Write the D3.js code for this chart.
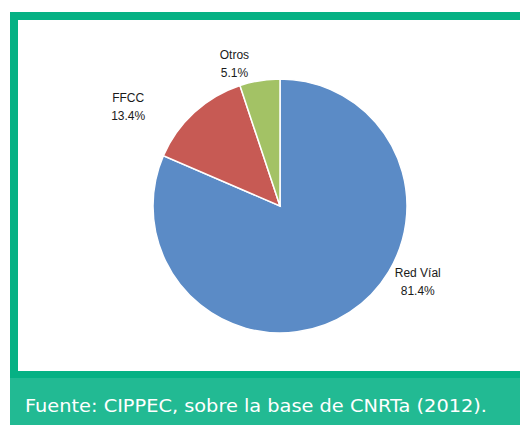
<!DOCTYPE html>
<html>
<head>
<meta charset="utf-8">
<script src="https://cdn.jsdelivr.net/npm/d3@7"></script>
<style>
  body { margin: 0; background: #fff; }
  svg { display: block; }
</style>
</head>
<body>
<script>
// Share of freight transport by mode (percent)
var categories = ["Red Víal", "FFCC", "Otros"];
var shares = [81.4, 13.4, 5.1];
var shareLabels = ["81.4%", "13.4%", "5.1%"];
var sliceColors = ["#5b8bc6", "#c75a54", "#a3c265"];
var caption = "Fuente: CIPPEC, sobre la base de CNRTa (2012).";

// where each label sits, relative to its slice middle (degrees / px)
var labelShift = [-28, -14, -8.5],
    labelRadius = [157, 182, 150];

var width = 520, height = 425;
var cx = 280, cy = 206, radius = 127;

var svg = d3.select("body").append("svg")
    .attr("width", width)
    .attr("height", height);

// green frame
svg.append("rect")
    .attr("x", 10).attr("y", 12)
    .attr("width", width - 10).attr("height", 366)
    .attr("fill", "#06b184");
svg.append("rect")
    .attr("x", 18).attr("y", 20)
    .attr("width", width - 18).attr("height", 351)
    .attr("fill", "#fff");

// caption band
svg.append("rect")
    .attr("x", 10).attr("y", 378)
    .attr("width", width - 10).attr("height", height - 378)
    .attr("fill", "#22ba93");
svg.append("text")
    .attr("x", 25).attr("y", 412)
    .attr("fill", "#fff")
    .attr("textLength", 462)
    .attr("lengthAdjust", "spacingAndGlyphs")
    .style("font-family", "'DejaVu Sans', sans-serif")
    .style("font-size", "17px")
    .text(caption);

var pie = d3.pie().sort(null).value(function(d) { return d; });
var arc = d3.arc().innerRadius(0).outerRadius(radius);
var arcs = pie(shares);

var g = svg.append("g")
    .attr("transform", "translate(" + cx + "," + cy + ")");

g.selectAll("path.slice")
    .data(arcs)
  .enter().append("path")
    .attr("class", "slice")
    .attr("d", arc)
    .attr("fill", function(d, i) { return sliceColors[i]; })
    .attr("stroke", "#fff")
    .attr("stroke-width", 1.5);

var label = g.selectAll("g.lbl")
    .data(arcs)
  .enter().append("g")
    .attr("class", "lbl")
    .attr("transform", function(d, i) {
      var a = (d.startAngle + d.endAngle) / 2 + labelShift[i] * Math.PI / 180;
      var r = labelRadius[i];
      return "translate(" + (r * Math.sin(a)) + "," + (-r * Math.cos(a)) + ")";
    })
    .style("font-family", "'Liberation Sans', Arial, sans-serif")
    .style("font-size", "12px")
    .attr("fill", "#1a1a1a")
    .attr("text-anchor", "middle");

label.append("text")
    .attr("y", -4)
    .text(function(d, i) { return categories[i]; });
label.append("text")
    .attr("y", 14)
    .text(function(d, i) { return shareLabels[i]; });
</script>
</body>
</html>
